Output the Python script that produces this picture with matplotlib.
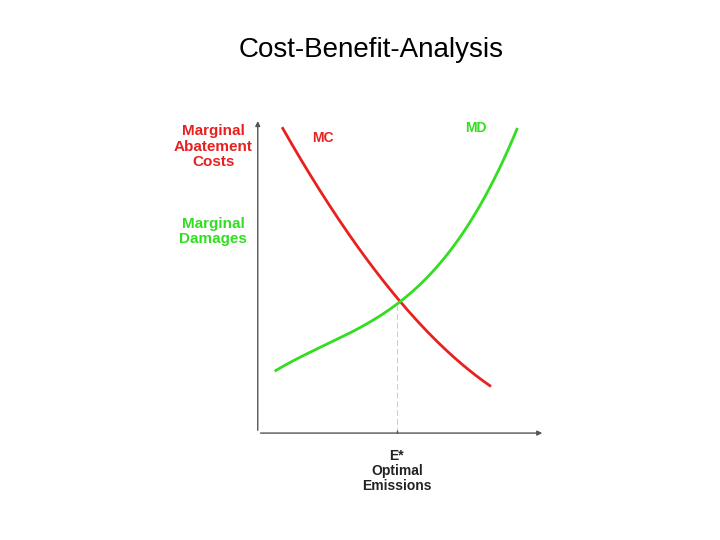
import matplotlib
matplotlib.use("Agg")
import matplotlib.pyplot as plt
import numpy as np

mc_x = [0.87, 1.6, 2.5, 3.6, 4.84, 5.8, 6.7, 7.5, 8.08]
mc_y = [9.68, 8.45, 7.4, 5.75, 4.16, 3.3, 2.63, 1.95, 1.43]
md_x = [0.63, 1.5, 2.5, 3.7, 4.84, 5.8, 6.7, 7.5, 8.08, 8.6, 9.02]
md_y = [2.03, 2.4, 2.79, 3.4, 4.16, 4.95, 5.81, 6.8, 7.71, 8.7, 9.78]
e_star = 4.84
e_star_y = 4.16

def smooth(x, y, deg=3):
    c = np.polyfit(x, y, deg)
    xs = np.linspace(min(x), max(x), 200)
    return xs, np.polyval(c, xs)

fig = plt.figure(figsize=(7.2, 5.4), dpi=100)
fig.text(0.516, 0.895, "Cost-Benefit-Analysis", ha="center", fontsize=20, family="Liberation Sans")
ax = fig.add_axes([0.358, 0.198, 0.399, 0.583])
ax.set_xlim(0, 10)
ax.set_ylim(0, 10)
for s in ax.spines.values():
    s.set_visible(False)
ax.set_xticks([]); ax.set_yticks([])
ax.annotate("", xy=(10, 0), xytext=(0, 0), arrowprops=dict(arrowstyle="-|>", color="#555555", lw=1, mutation_scale=7), annotation_clip=False)
ax.annotate("", xy=(0, 10), xytext=(0, 0), arrowprops=dict(arrowstyle="-|>", color="#555555", lw=1, mutation_scale=7), annotation_clip=False)
ax.plot(*smooth(mc_x, mc_y), color="#e8211f", lw=2, clip_on=False)
ax.plot(*smooth(md_x, md_y), color="#33dd22", lw=2, clip_on=False)
ax.plot([e_star, e_star], [0, e_star_y], color="#cccccc", lw=0.7, ls=(0, (6, 3)))
ax.plot([e_star], [0], marker="|", color="#555555", ms=4)
fb = dict(fontweight="bold", fontsize=10, family="Liberation Sans")
ax.text(2.25, 9.25, "MC", color="#e8211f", ha="center", **fb)
ax.text(7.6, 9.55, "MD", color="#33dd22", ha="center", **fb)
ax.text(-1.55, 9.1, "Marginal\nAbatement\nCosts", color="#e8211f", ha="center", va="center", linespacing=1.15, fontsize=11, fontweight="bold", family="Liberation Sans")
ax.text(-1.55, 6.4, "Marginal\nDamages", color="#33dd22", ha="center", va="center", linespacing=1.15, fontsize=11, fontweight="bold", family="Liberation Sans")
ax.text(e_star, -0.5, "E*\nOptimal\nEmissions", color="#222222", ha="center", va="top", linespacing=1.1, **fb)
fig.savefig("out.png", dpi=100)
